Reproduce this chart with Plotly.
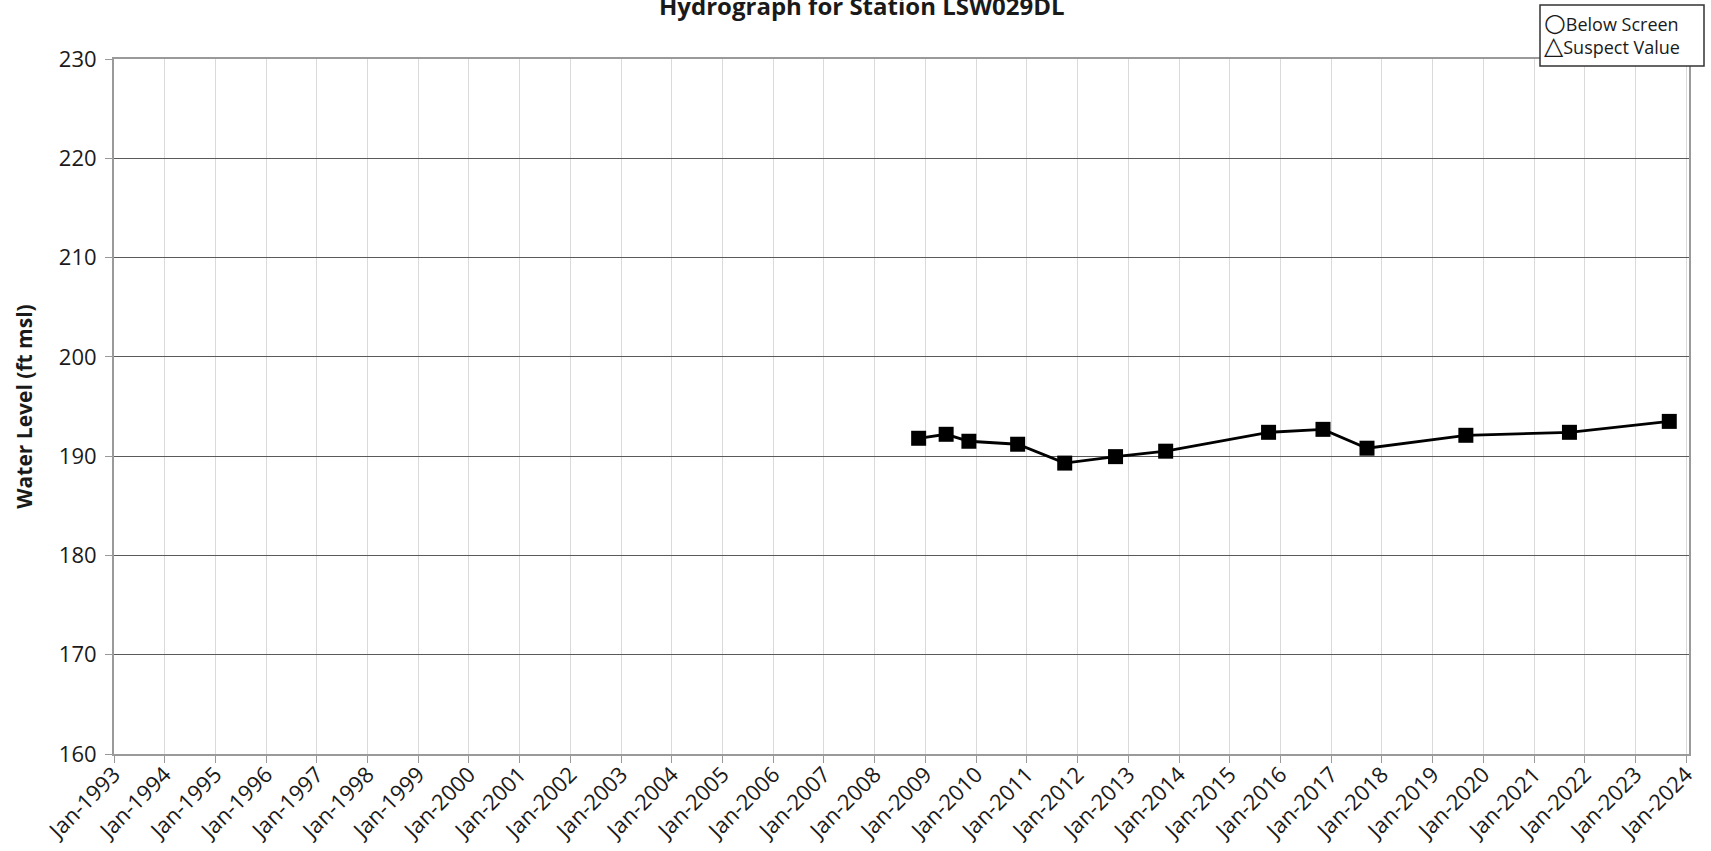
import plotly.graph_objects as go

# Measured water levels at station LSW029DL
dates = [
    "2008-11-13", "2009-05-30", "2009-11-10", "2010-10-27", "2011-10-01",
    "2012-10-01", "2013-09-27", "2015-10-08", "2016-11-03", "2017-09-16",
    "2019-08-29", "2021-09-13", "2023-09-02",
]
levels = [191.8, 192.2, 191.5, 191.2, 189.3, 189.95, 190.5, 192.4, 192.7,
          190.8, 192.1, 192.4, 193.5]

y_min, y_max, y_step = 160, 230, 10
x_start, x_end = "1993-01-01", "2024-01-22"

title_text = "Hydrograph for Station LSW029DL"
y_title = "Water Level (ft msl)"
key_symbols = ["\u25cb", "\u25b3"]
key_labels = ["Below Screen", "Suspect Value"]

FONT = "Open Sans, Noto Sans, DejaVu Sans, sans-serif"
TXT = "#1a1a1a"

W, H = 1711, 851
L, R, T, B = 114, 22, 59, 97
PW, PH = W - L - R, H - T - B


def px_x(x):
    return (x - L) / PW


def px_y(y):
    return 1 + (T - y) / PH


fig = go.Figure()
fig.add_trace(go.Scatter(
    x=dates, y=levels, mode="lines+markers",
    line=dict(color="#000000", width=2.8),
    marker=dict(symbol="square", size=15, color="#000000"),
    showlegend=False, hoverinfo="x+y",
))

fig.update_layout(
    width=W, height=H,
    margin=dict(l=L, r=R, t=T, b=B, autoexpand=False),
    paper_bgcolor="white", plot_bgcolor="white",
    font=dict(family=FONT, color=TXT, size=20),
    showlegend=False,
)

fig.update_xaxes(
    type="date", range=[x_start, x_end], automargin=False,
    tick0="1993-01-01", dtick="M12", tickformat="%b-%Y",
    tickangle=-45, ticks="outside", ticklen=7, tickcolor="#999999",
    ticklabelstandoff=-10,
    tickfont=dict(size=22, family=FONT, color=TXT),
    showgrid=True, gridcolor="#dadada", gridwidth=1,
    showline=True, linecolor="#9a9a9a", linewidth=2, mirror=True,
    zeroline=False,
)
fig.update_yaxes(
    range=[y_min, y_max], dtick=y_step, tick0=y_min, automargin=False,
    ticks="outside", ticklen=7, tickcolor="#999999",
    ticklabelstandoff=4,
    tickfont=dict(size=22, family=FONT, color=TXT),
    showgrid=True, gridcolor="#5a5a5a", gridwidth=1,
    showline=True, linecolor="#9a9a9a", linewidth=2, mirror=True,
    zeroline=False,
    title=dict(text="<b>" + y_title + "</b>", standoff=20,
               font=dict(size=21, family=FONT, color=TXT)),
)

# Chart title, running off the top of the page
fig.add_annotation(
    text="<b>" + title_text + "</b>", xref="paper", yref="paper",
    x=px_x(862), y=px_y(24),
    xanchor="center", yanchor="bottom", showarrow=False,
    font=dict(size=24, family=FONT, color=TXT),
)

# Symbol key box in the top-right corner
fig.add_shape(
    type="rect", xref="paper", yref="paper",
    x0=px_x(1540), x1=px_x(1704), y0=px_y(66), y1=px_y(5),
    line=dict(color="#333333", width=1.5), fillcolor="white", layer="above",
)
key_rows = [
    '<span style="font-family:DejaVu Sans;font-size:25px">' + s + "</span>" + t
    for s, t in zip(key_symbols, key_labels)
]
fig.add_annotation(
    text="<br>".join(key_rows), align="left",
    xref="paper", yref="paper",
    x=px_x(1542), y=px_y(34), xanchor="left", yanchor="middle",
    showarrow=False,
    font=dict(size=18, family=FONT, color=TXT),
)

fig.write_html("out.html")
